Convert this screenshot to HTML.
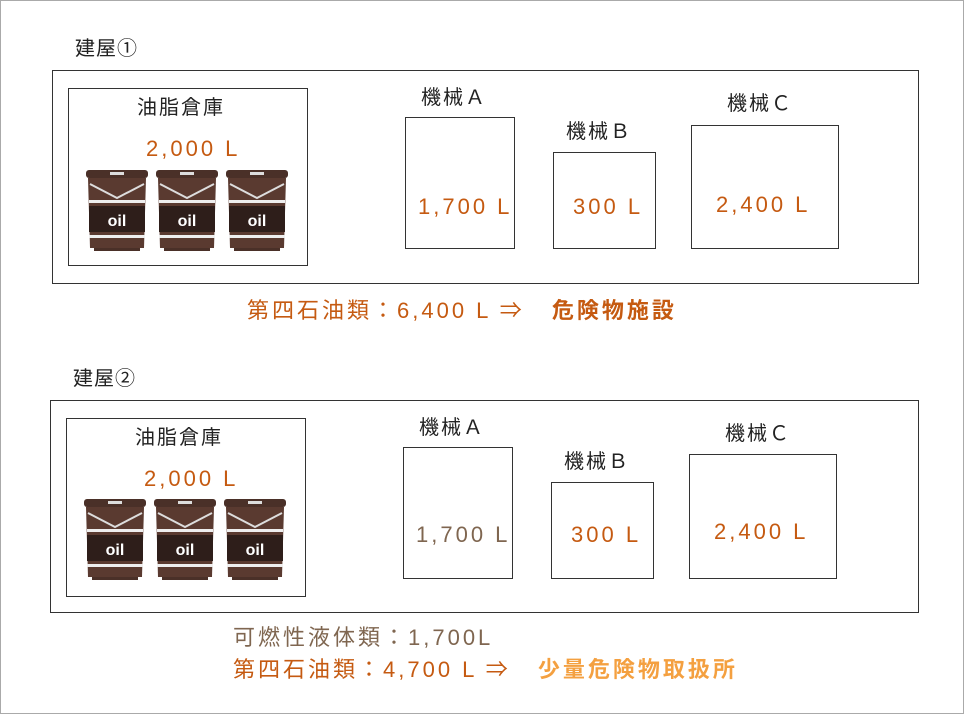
<!DOCTYPE html>
<html><head><meta charset="utf-8"><style>
body{margin:0;width:964px;height:714px;background:#fff;position:relative;overflow:hidden;font-family:"Liberation Sans","Noto Sans CJK JP",sans-serif;}
.a{position:absolute;white-space:nowrap;line-height:1;}
.b{position:absolute;border:1.5px solid #333;box-sizing:border-box;}
.o{color:#c55a11;font-size:22px;letter-spacing:3px;}
.k{color:#222;font-size:20px;letter-spacing:2px;}
.br{color:#7f6650;}
svg{position:absolute;}
</style></head><body>
<div class="b" style="left:0;top:0;width:964px;height:714px;border:1px solid #aaa"></div>
<svg width="0" height="0"><defs>
<g id="bar">
<rect x="2" y="0" width="62" height="8" rx="3" fill="#4a3028"/>
<rect x="26" y="2" width="14" height="3" fill="#ddd"/>
<path d="M4 8 L62 8 L60 78 L6 78 Z" fill="#5a3a30"/>
<path d="M6 14 L33 28 L60 14" stroke="#ddd" stroke-width="2" fill="none"/>
<rect x="5" y="30" width="56" height="3" fill="#eee"/>
<rect x="5" y="36" width="56" height="26" fill="#2e1e1a"/>
<text x="33" y="56" text-anchor="middle" font-family="Liberation Sans" font-weight="bold" font-size="16" fill="#fff">oil</text>
<rect x="5" y="65" width="56" height="3" fill="#eee"/>
<rect x="10" y="78" width="46" height="3" fill="#4a3028"/>
</g></defs></svg>

<div class="a" style="left:75px;top:39px;font-size:20px;color:#222;letter-spacing:1px">建屋①</div>
<div class="b" style="left:52px;top:70px;width:867px;height:214px"></div>
<div class="b" style="left:68px;top:88px;width:240px;height:178px"></div>
<div class="a k" style="left:137px;top:98px">油脂倉庫</div>
<div class="a o" style="left:146px;top:138px">2,000 L</div>
<svg style="left:84px;top:170px" width="210" height="84"><use href="#bar"/><use href="#bar" x="70"/><use href="#bar" x="140"/></svg>
<div class="a k" style="left:421px;top:88px">機械Ａ</div>
<div class="b" style="left:405px;top:117px;width:110px;height:132px"></div>
<div class="a o" style="left:418px;top:196px">1,700 L</div>
<div class="a k" style="left:566px;top:122px">機械Ｂ</div>
<div class="b" style="left:553px;top:152px;width:103px;height:97px"></div>
<div class="a o" style="left:573px;top:196px">300 L</div>
<div class="a k" style="left:727px;top:94px">機械Ｃ</div>
<div class="b" style="left:691px;top:125px;width:148px;height:124px"></div>
<div class="a o" style="left:716px;top:194px">2,400 L</div>
<div class="a o" style="left:247px;top:300px">第四石油類：6,400 L ⇒ <b style="margin-left:18px">危険物施設</b></div>

<div class="a" style="left:73px;top:369px;font-size:20px;color:#222;letter-spacing:1px">建屋②</div>
<div class="b" style="left:50px;top:400px;width:869px;height:213px"></div>
<div class="b" style="left:66px;top:418px;width:240px;height:179px"></div>
<div class="a k" style="left:135px;top:428px">油脂倉庫</div>
<div class="a o" style="left:144px;top:468px">2,000 L</div>
<svg style="left:82px;top:499px" width="210" height="84"><use href="#bar"/><use href="#bar" x="70"/><use href="#bar" x="140"/></svg>
<div class="a k" style="left:419px;top:418px">機械Ａ</div>
<div class="b" style="left:403px;top:447px;width:110px;height:132px"></div>
<div class="a o br" style="left:416px;top:524px">1,700 L</div>
<div class="a k" style="left:564px;top:452px">機械Ｂ</div>
<div class="b" style="left:551px;top:482px;width:103px;height:97px"></div>
<div class="a o" style="left:571px;top:524px">300 L</div>
<div class="a k" style="left:725px;top:424px">機械Ｃ</div>
<div class="b" style="left:689px;top:454px;width:148px;height:125px"></div>
<div class="a o" style="left:714px;top:521px">2,400 L</div>
<div class="a o br" style="left:233px;top:627px">可燃性液体類：1,700L</div>
<div class="a o" style="left:233px;top:659px">第四石油類：4,700 L ⇒ <b style="margin-left:18px;color:#f4a040">少量危険物取扱所</b></div>
</body></html>
